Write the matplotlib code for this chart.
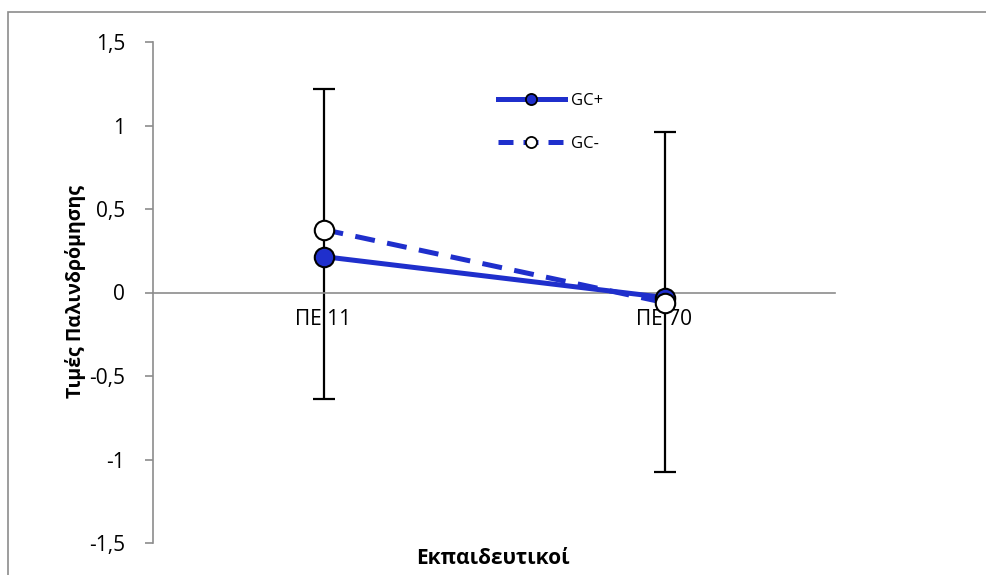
import matplotlib.pyplot as plt
from matplotlib.lines import Line2D
from matplotlib.patches import Rectangle

plt.rcParams['font.family'] = ['Open Sans', 'DejaVu Sans']

categories = ["ΠΕ 11", "ΠΕ 70"]
gc_plus = [0.215, -0.03]
gc_minus = [0.377, -0.06]
err_low = [-0.635, -1.075]
err_high = [1.22, 0.96]
yticks = [-1.5, -1, -0.5, 0, 0.5, 1, 1.5]
ytick_labels = ["-1,5", "-1", "-0,5", "0", "0,5", "1", "1,5"]

blue = "#1F2FCC"
grey = "#8C8C8C"

fig = plt.figure(figsize=(9.86, 5.75), dpi=100)
ax = fig.add_axes([153 / 986, 1 - 543 / 575, (835 - 153) / 986, (543 - 42) / 575])

# outer chart border
fig.patches.append(Rectangle((8 / 986, -0.2), 1.2, 1 - 12 / 575 + 0.2,
                             transform=fig.transFigure, fill=False,
                             edgecolor=grey, lw=1.2, clip_on=False))

# spines first (set_position resets tick styling)
for s in ['top', 'right']:
    ax.spines[s].set_visible(False)
ax.spines['bottom'].set_position(('data', 0))
ax.spines['bottom'].set_color(grey)
ax.spines['left'].set_color(grey)
ax.spines['bottom'].set_linewidth(1.2)
ax.spines['left'].set_linewidth(1.2)

x = list(range(len(categories)))

# error bars (center = GC+ value)
yerr = [[g - lo for g, lo in zip(gc_plus, err_low)],
        [hi - g for g, hi in zip(gc_plus, err_high)]]
ax.errorbar(x, gc_plus, yerr=yerr, fmt='none', ecolor='black',
            elinewidth=1.6, capsize=8, capthick=1.6, zorder=2)

ax.plot(x, gc_plus, color=blue, lw=3.6, zorder=3)
ax.plot(x, gc_minus, color=blue, lw=3.6, ls=(0, (4, 2.5)), zorder=3)
ax.plot(x, gc_plus, ls='none', marker='o', ms=14, mfc=blue, mec='black',
        mew=1.5, zorder=4)
ax.plot(x, gc_minus, ls='none', marker='o', ms=14, mfc='white', mec='black',
        mew=1.5, zorder=5)

ax.set_xlim(-0.5, 1.5)
ax.set_ylim(-1.5, 1.5)
ax.set_yticks(yticks)
ax.set_yticklabels(ytick_labels, fontsize=15)
ax.set_xticks(x)
ax.set_xticklabels(categories, fontsize=15)
ax.tick_params(axis='y', colors=grey, labelcolor='black', length=6, width=1.2, pad=14)
ax.tick_params(axis='x', length=0, pad=12)

fig.text(75 / 986, 1 - 292 / 575, "Τιμές Παλινδρόμησης", rotation=90,
         ha='center', va='center', fontsize=14, fontweight='bold')
fig.text(493 / 986, 1 - 558 / 575, "Εκπαιδευτικοί", ha='center', va='center',
         fontsize=15, fontweight='bold')

handles = [
    Line2D([], [], color=blue, lw=3.6, marker='o', ms=8, mfc=blue, mec='black', mew=1.3),
    Line2D([], [], color=blue, lw=3.6, ls=(0, (3, 2)), marker='o', ms=8, mfc='white',
           mec='black', mew=1.3),
]
ax.legend(handles, ["GC+", "GC-"], loc='upper left',
          bbox_to_anchor=((483 - 153) / 682, 1 - (78 - 42) / 501),
          frameon=False, fontsize=12, handlelength=4.0, labelspacing=1.6,
          handletextpad=0.4)

fig.savefig("out.png", dpi=100)
